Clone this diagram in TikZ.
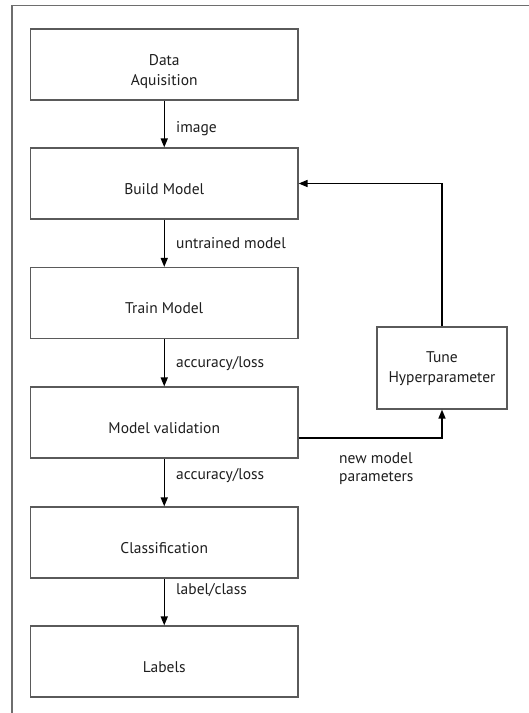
\documentclass[tikz,border=0pt]{standalone}
\usepackage{fontspec}
\setmainfont{PT Sans}
\usetikzlibrary{arrows.meta,calc}
\definecolor{boxgray}{HTML}{5A5A5A}
\definecolor{framegray}{HTML}{6E6E6E}
\definecolor{ink}{HTML}{1E1E1E}
\tikzset{
  stepbox/.style={draw=boxgray, line width=1.2pt, minimum width=267.5pt, minimum height=71pt,
    inner sep=0pt, align=center, text=ink, font=\fontsize{15.5}{20}\selectfont},
  flow/.style={draw=black, line width=1.5pt, -{Triangle[length=9pt,width=7pt]}},
  lbl/.style={anchor=base west, inner sep=0pt, text=ink, font=\fontsize{15.5}{20}\selectfont},
}
\begin{document}
\begin{tikzpicture}[x=1pt,y=-1pt]
\useasboundingbox (0,0) rectangle (529,713);
\fill[white] (0,0) rectangle (529,713);
% frame
\coordinate (fa) at (12,713);
\coordinate (fb) at (12,5.7);
\coordinate (fc) at (529,5.7);
\draw[framegray, line width=1.2pt] (fa) -- (fb) -- (fc);
% boxes
\node[stepbox, text height=41pt, text depth=0pt] (acq) at (164.25,64.5) {Data\\Aquisition};
\node[stepbox, text height=21pt, text depth=0pt] (build) at (164.25,183.5) {Build Model};
\node[stepbox, text height=21pt, text depth=0pt] (train) at (164.25,303) {Train Model};
\node[stepbox, text height=21pt, text depth=0pt] (valid) at (164.25,422.5) {Model validation};
\node[stepbox, text height=21pt, text depth=0pt] (class) at (164.25,542.5) {Classification};
\node[stepbox, text height=21pt, text depth=0pt] (labels) at (164.25,661.5) {Labels};
\node[stepbox, minimum width=130pt, minimum height=82pt, text height=28pt, text depth=0pt] (tune) at (442,368) {Tune\\Hyperparameter};
% connectors
\draw[flow] (acq) -- (build);
\draw[flow] (build) -- (train);
\draw[flow] (train) -- (valid);
\draw[flow] (valid) -- (class);
\draw[flow] (class) -- (labels);
\coordinate (vout) at ($(valid.east)+(0,15.5)$);
\draw[flow] (vout) -| (tune.south);
\draw[flow] (tune.north) |- (build.east);
% labels
\node[lbl] (l1) at (176,132.5) {image};
\node[lbl] (l2) at (176,248) {untrained model};
\node[lbl] (l3) at (176,367) {accuracy/loss};
\node[lbl] (l4) at (176,479.5) {accuracy/loss};
\node[lbl] (l5) at (176,594) {label/class};
\node[anchor=north west, inner sep=0pt, align=left, text=ink, font=\fontsize{15.5}{18}\selectfont] (l6) at (339,452) {new model\\parameters};
\end{tikzpicture}
\end{document}
